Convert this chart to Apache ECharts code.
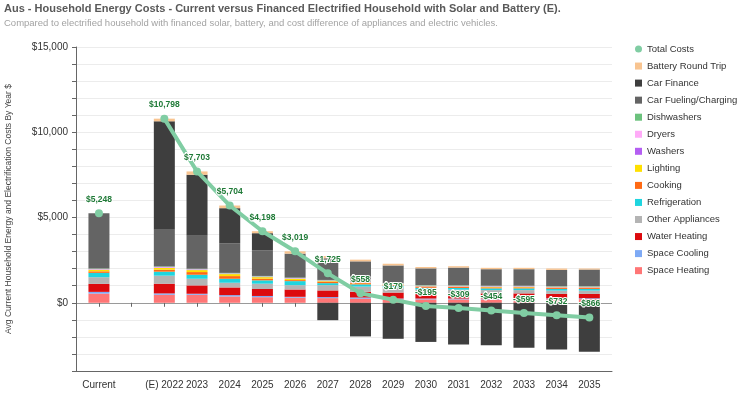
<!DOCTYPE html>
<html>
<head>
<meta charset="utf-8">
<script src="https://cdn.jsdelivr.net/npm/echarts@6/dist/echarts.min.js"></script>
<style>
  html, body { margin: 0; padding: 0; background: #fff; }
  #chart { width: 739px; height: 396px; }
</style>
</head>
<body>
<div id="chart"></div>
<script>
// categories (blank slot between Current and 2022)
var years = ['Current', '', '(E) 2022', '2023', '2024', '2025', '2026', '2027', '2028', '2029', '2030', '2031', '2032', '2033', '2034', '2035'];

// stacked segments, bottom to top
var spaceHeating   = [540, null, 470, 470, 370, 330, 300, 275, 240, 200, 200, 200, 200, 210, 210, 215];
var spaceCooling   = [100, null, 80, 60, 80, 70, 50, 60, 70, 50, 50, 50, 50, 50, 50, 50];
var waterHeating   = [470, null, 570, 490, 450, 410, 430, 390, 330, 350, 330, 320, 300, 290, 260, 255];
var otherAppliances = [390, null, 470, 390, 275, 310, 255, 310, 310, 280, 200, 200, 195, 195, 195, 195];
var refrigeration  = [255, null, 235, 235, 235, 195, 235, 117, 130, 120, 100, 100, 100, 100, 100, 100];
var cooking        = [90, null, 117, 156, 156, 100, 60, 78, 70, 60, 60, 60, 60, 60, 60, 60];
var lighting       = [90, null, 100, 117, 117, 90, 75, 40, 30, 30, 25, 25, 25, 25, 25, 25];
var washers        = [20, null, 30, 25, 20, 20, 20, 20, 20, 20, 20, 20, 20, 20, 20, 20];
var dryers         = [20, null, 30, 25, 20, 20, 20, 20, 20, 20, 20, 20, 20, 20, 20, 20];
var dishwashers    = [30, null, 30, 30, 30, 30, 30, 30, 30, 30, 30, 30, 30, 30, 30, 30];
var carFueling     = [3243, null, 2150, 1930, 1740, 1490, 1409, 1270, 1180, 1030, 985, 1040, 970, 970, 960, 980];
var carFinance     = [0, null, 6360, 3580, 2055, 1016, 0, -1020, -1972, -2111, -2295, -2444, -2494, -2635, -2732, -2866];
var batteryTrip    = [0, null, 156, 195, 156, 117, 135, 135, 100, 100, 80, 80, 80, 80, 80, 60];

// total cost line
var totalCosts = [5248, null, 10798, 7703, 5704, 4198, 3019, 1725, 558, 179, -195, -309, -454, -595, -732, -866];

// y-axis ticks
var yMin = -4000, yMax = 15000, yStep = 1000;

var font = 'Liberation Sans, Arial, sans-serif';
var chart = echarts.init(document.getElementById('chart'));

function money(v) {
  var s = '$' + Math.abs(v).toLocaleString('en-US');
  return v < 0 ? '-' + s : s;
}

// gridline colours: the zero line is darker
var gridColors = [];
for (var v = yMin; v <= yMax; v += yStep) {
  gridColors.push(v === 0 ? '#9a9a9a' : '#ececec');
}

var stackDefs = [
  ['Space Heating', spaceHeating, '#ff7676'],
  ['Space Cooling', spaceCooling, '#7eaaf5'],
  ['Water Heating', waterHeating, '#dc0a0e'],
  ['Other Appliances', otherAppliances, '#b4b4b4'],
  ['Refrigeration', refrigeration, '#1fd5df'],
  ['Cooking', cooking, '#ff6a14'],
  ['Lighting', lighting, '#ffe000'],
  ['Washers', washers, '#b45ef2'],
  ['Dryers', dryers, '#ffabf8'],
  ['Dishwashers', dishwashers, '#6cc27d'],
  ['Car Fueling/Charging', carFueling, '#646464'],
  ['Car Finance', carFinance, '#3e3e3e'],
  ['Battery Round Trip', batteryTrip, '#f8c490']
];

var series = stackDefs.map(function (d) {
  return {
    name: d[0],
    type: 'bar',
    stack: 'cost',
    xAxisIndex: 1,
    yAxisIndex: 1,
    barWidth: 21,
    data: d[1],
    itemStyle: { color: d[2] }
  };
});

series.push({
  name: 'Total Costs',
  type: 'line',
  xAxisIndex: 1,
  yAxisIndex: 1,
  data: totalCosts,
  connectNulls: false,
  symbol: 'circle',
  symbolSize: 8,
  z: 5,
  lineStyle: { width: 4, color: '#80cda3' },
  itemStyle: { color: '#80cda3' },
  label: {
    show: true,
    position: 'top',
    distance: 5,
    formatter: function (p) { return money(p.value); },
    color: '#1f7a37',
    fontFamily: font,
    fontSize: 8.5,
    fontWeight: 'bold',
    textBorderColor: '#fff',
    textBorderWidth: 2
  }
});

var option = {
  animation: false,
  textStyle: { fontFamily: font },
  title: [
    {
      text: 'Aus - Household Energy Costs - Current versus Financed Electrified Household with Solar and Battery (E).',
      left: 4,
      top: 3,
      padding: 0,
      textStyle: { fontSize: 11, fontWeight: 'bold', color: '#595959', fontFamily: font }
    },
    {
      text: 'Compared to electrified household with financed solar, battery, and cost difference of appliances and electric vehicles.',
      left: 4,
      top: 18,
      padding: 0,
      textStyle: { fontSize: 9.5, fontWeight: 'normal', color: '#a3a3a3', fontFamily: font }
    }
  ],
  legend: {
    orient: 'vertical',
    left: 635,
    top: 43,
    padding: 0,
    itemWidth: 7,
    itemHeight: 7,
    itemGap: 5.05,
    textStyle: { fontSize: 9.5, lineHeight: 12, color: '#333', fontFamily: font },
    data: [
      { name: 'Total Costs', icon: 'circle' },
      { name: 'Battery Round Trip', icon: 'rect' },
      { name: 'Car Finance', icon: 'rect' },
      { name: 'Car Fueling/Charging', icon: 'rect' },
      { name: 'Dishwashers', icon: 'rect' },
      { name: 'Dryers', icon: 'rect' },
      { name: 'Washers', icon: 'rect' },
      { name: 'Lighting', icon: 'rect' },
      { name: 'Cooking', icon: 'rect' },
      { name: 'Refrigeration', icon: 'rect' },
      { name: 'Other Appliances', icon: 'rect' },
      { name: 'Water Heating', icon: 'rect' },
      { name: 'Space Cooling', icon: 'rect' },
      { name: 'Space Heating', icon: 'rect' }
    ]
  },
  grid: [
    { left: 76, right: 127, top: 47, bottom: 25, outerBoundsMode: 'none' },
    { left: 82.6, right: 133.3, top: 47, bottom: 25, outerBoundsMode: 'none' }
  ],
  xAxis: [
    {
      gridIndex: 0,
      type: 'value',
      min: 0,
      max: 1,
      axisLine: { show: true, onZero: false, lineStyle: { color: '#666' } },
      axisTick: { show: false },
      axisLabel: { show: false },
      splitLine: { show: false }
    },
    {
      gridIndex: 1,
      type: 'category',
      data: years,
      axisLine: { show: false },
      axisTick: { show: true, alignWithLabel: true, length: 4, lineStyle: { color: '#666' } },
      axisLabel: { color: '#333', fontSize: 10, fontFamily: font, interval: 0, margin: 9 }
    }
  ],
  yAxis: [
    {
      gridIndex: 0,
      type: 'value',
      min: yMin,
      max: yMax,
      interval: yStep,
      name: 'Avg Current Household Energy and Electrification Costs By Year $',
      nameLocation: 'middle',
      nameGap: 63,
      nameTextStyle: { fontSize: 8.5, color: '#444', fontFamily: font },
      axisLine: { show: true, lineStyle: { color: '#666' } },
      axisTick: { show: true, length: 4, lineStyle: { color: '#666' } },
      axisLabel: {
        color: '#333',
        fontSize: 10,
        fontFamily: font,
        margin: 8,
        formatter: function (v) { return v % 5000 === 0 ? money(v) : ''; }
      },
      splitLine: { show: true, lineStyle: { color: gridColors, width: 1 } }
    },
    {
      gridIndex: 1,
      type: 'value',
      min: yMin,
      max: yMax,
      interval: yStep,
      show: false,
      splitLine: { show: false }
    }
  ],
  series: series
};

chart.setOption(option);
</script>
</body>
</html>
